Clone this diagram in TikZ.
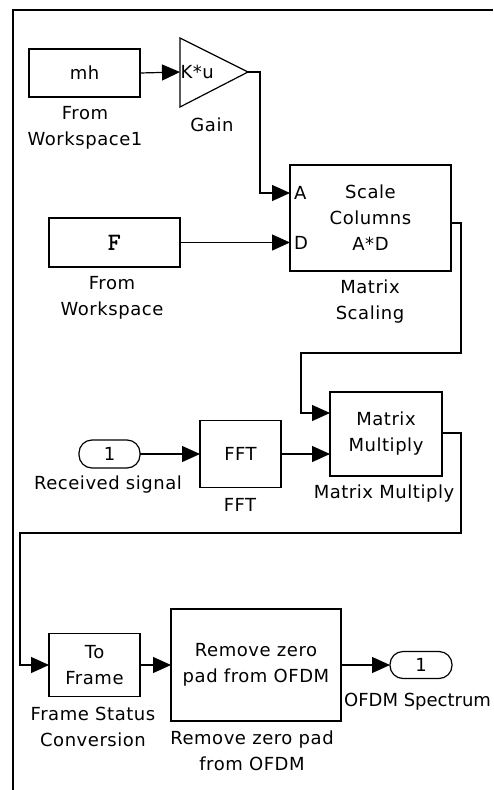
\documentclass[tikz,border=0pt]{standalone}
\usepackage{fontspec}
\setmainfont{DejaVu Sans}[LetterSpace=3]
\usetikzlibrary{arrows.meta}

\tikzset{%
signal/.style={line width=1.2pt, -{Triangle[length=18pt, width=16pt]}},%
block/.style={draw, line width=1.2pt, inner sep=0, outer sep=0, align=center, font=\fontsize{18}{26}\selectfont},%
portblock/.style={block, rounded corners=13pt},%
blocklabel/.style={inner sep=0, outer sep=0, align=center, font=\fontsize{18}{26}\selectfont}%
}

\begin{document}
\begin{tikzpicture}[x=1pt, y=-1pt]

\useasboundingbox (0,0) rectangle (493,790);
\fill [white] (0,0) rectangle (493,790);

% arguments: name, x, y, width, height, text
\newcommand{\setblock}[6]{%
\path (#2, #3) node [block, minimum width=#4pt, minimum height=#5pt] (#1) {#6} ;
}

% arguments: name, x, y, width, height, text
\newcommand{\setport}[6]{%
\path (#2, #3) node [portblock, minimum width=#4pt, minimum height=#5pt] (#1) {#6} ;
}

% arguments: x, y, node options, text
\newcommand{\labelblock}[4]{%
\path (#1, #2) node [blocklabel, #3] {#4} ;
}

% subsystem frame
\draw [line width=1.5pt] (13,790) -- (13,10) -- (493,10) ;

% blocks

\setblock{mh}{84.5}{73}{111}{48}{mh}
\setblock{F}{114.5}{242.5}{131}{49}{\ttfamily\bfseries\fontsize{25}{25}\selectfont F}
\setblock{scaling}{370.5}{218}{161}{106}{Scale\\Columns\\A*D}
\setport{recv}{109.5}{454}{61}{28}{1}
\setblock{fft}{240.5}{454}{81}{67}{FFT}
\setblock{multiply}{386}{434}{112}{84}{Matrix\\Multiply}
\setblock{toframe}{94.5}{665}{91}{63}{To\\Frame}
\setblock{removepad}{256}{665}{170}{112}{Remove zero\\pad from OFDM}
\setport{spectrum}{421}{665}{62}{27}{1}

% gain triangle
\path (180,72) node [shape=coordinate] (gainin) {} ;
\path (248,72) node [shape=coordinate] (gainout) {} ;
\draw [line width=1.2pt] (180,38) -- (gainout) -- (180,107) -- cycle ;
\path (gainin) node [blocklabel, anchor=west, xshift=0.5pt] (gaintext) {K*u} ;

% ports of the matrix blocks
\path (290,193) node [shape=coordinate] (scalingA) {} ;
\path (290,242.5) node [shape=coordinate] (scalingD) {} ;
\path (451,223) node [shape=coordinate] (scalingout) {} ;
\path (330,413) node [shape=coordinate] (multiplyA) {} ;
\path (330,454) node [shape=coordinate] (multiplyB) {} ;
\path (442,433) node [shape=coordinate] (multiplyout) {} ;
\path (scalingA) node [blocklabel, anchor=west, xshift=4pt] {A} ;
\path (scalingD) node [blocklabel, anchor=west, xshift=4pt] {D} ;

% draw signal lines

\draw [signal] (mh.east) -- (gainin) ;
\draw [signal] (gainout) -- ++(12,0) |- (scalingA) ;
\draw [signal] (F.east) -- (scalingD) ;
\draw [signal] (scalingout) -- ++(10,0) |- ++(-160,130) |- (multiplyA) ;
\draw [signal] (recv.east) -- (fft.west) ;
\draw [signal] (fft.east) -- (multiplyB) ;
\draw [signal] (multiplyout) -- ++(19,0) |- ++(-441,100) |- (toframe.west) ;
\draw [signal] (toframe.east) -- (removepad.west) ;
\draw [signal] (removepad.east) -- (spectrum.west) ;

% block names

\labelblock{85}{127.5}{}{From\\Workspace1}
\labelblock{212}{125}{}{Gain}
\labelblock{112}{298}{}{From\\Workspace}
\labelblock{370}{301.5}{}{Matrix\\Scaling}
\labelblock{108}{485}{}{Received signal}
\labelblock{240}{505}{}{FFT}
\labelblock{384}{494}{}{Matrix Multiply}
\labelblock{93}{726.5}{}{Frame Status\\Conversion}
\labelblock{252}{751}{}{Remove zero pad\\from OFDM}
\labelblock{491}{702}{anchor=east}{\addfontfeature{LetterSpace=0}OFDM Spectrum}

\end{tikzpicture}
\end{document}
